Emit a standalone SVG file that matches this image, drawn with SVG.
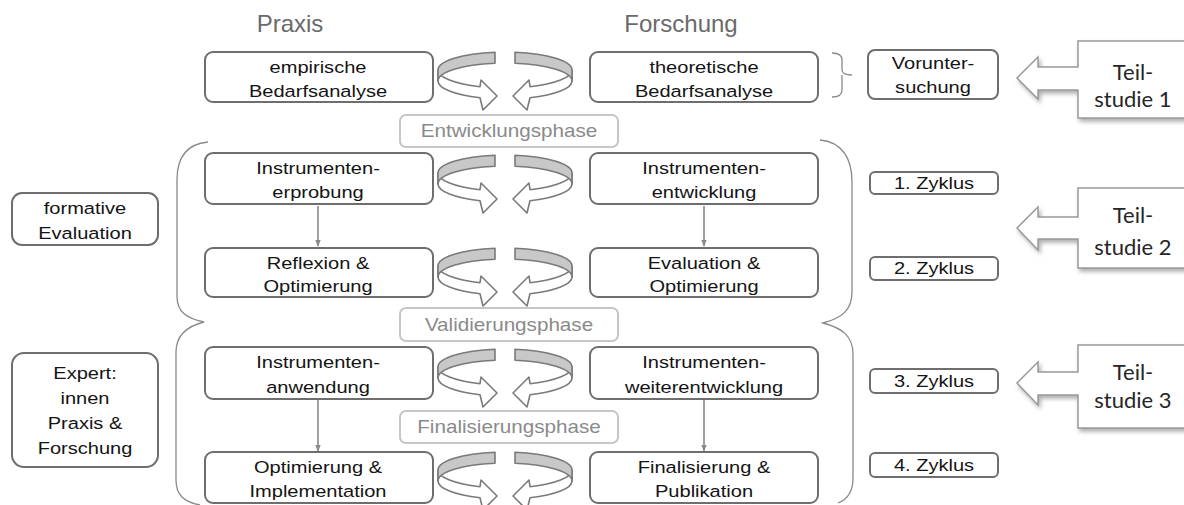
<svg xmlns="http://www.w3.org/2000/svg" width="1184" height="505" viewBox="0 0 1184 505">
<style>
.box{fill:#fff;stroke:#6e6e6e;stroke-width:2}
.phase{fill:#fff;stroke:#c6c6c6;stroke-width:2}
.t{font-family:"Liberation Sans",Arial,sans-serif;font-size:17px;fill:#141414;text-anchor:middle}
.pt{font-family:"Liberation Sans",Arial,sans-serif;font-size:17.5px;fill:#8a8a8a;text-anchor:middle}
.h{font-family:"Liberation Sans",Arial,sans-serif;font-size:24px;fill:#6a6a6a;text-anchor:middle}
.ts{font-family:Lato,"Open Sans",sans-serif;font-size:22px;fill:#262626;text-anchor:middle}
.cg{fill:#c8c8c8;stroke:#7a7a7a;stroke-width:1.6;stroke-linejoin:round}
.cw{fill:#fff;stroke:#7a7a7a;stroke-width:1.6;stroke-linejoin:round}
.br{fill:none;stroke:#8a8a8a;stroke-width:1.3}
.conn{stroke:#8a8a8a;stroke-width:1.6;fill:none}
.call{fill:#fff;stroke:#9a9a9a;stroke-width:1.5}
</style>
<defs>
<marker id="ah" viewBox="0 0 10 10" refX="9" refY="5" markerWidth="4.5" markerHeight="4.5" orient="auto"><path d="M0,1 L10,5 L0,9 Z" fill="#8a8a8a"/></marker>
<filter id="sh" x="-20%" y="-20%" width="140%" height="140%"><feDropShadow dx="2" dy="3" stdDeviation="2" flood-color="#9a9a9a" flood-opacity="0.8"/></filter>
<g id="cyc">
<path class="cw" d="M -67,0 A 67,18 0 0 0 -25,16.7 L -24,10 L -8,26 L -22,40 L -25,27.7 A 67,18 0 0 1 -67,11 Z"/>
<path class="cg" d="M -10,-17.8 A 67,18 0 0 0 -67,0 L -67,11 A 67,18 0 0 1 -10,-6.8 Z"/>
</g>
</defs>

<g id="headers">
<text class="h" x="290" y="32">Praxis</text>
<text class="h" x="681" y="32">Forschung</text>
</g>

<g id="brackets">
<path class="br" d="M 832,53 Q 842,53 842,60 L 842,70 Q 842,75 852,75 M 842,75 Q 842,75 842,80 L 842,90 Q 842,97 832,97"/>
<path class="br" d="M 208,142 C 186,144 177,158 177,180 L 177,296 C 177,312 186,318 204,322 C 188,326 176,334 176,352 L 176,480 C 176,495 184,502 200,505"/>
<path class="br" d="M 820,140 C 842,142 852,158 852,182 L 852,292 C 852,310 842,318 823,323 C 842,328 853,336 853,354 L 853,478 C 853,494 846,500 838,503"/>
</g>

<g id="connectors">
<line class="conn" x1="318" y1="206" x2="318" y2="246" marker-end="url(#ah)"/>
<line class="conn" x1="704" y1="206" x2="704" y2="246" marker-end="url(#ah)"/>
<line class="conn" x1="318" y1="400" x2="318" y2="451" marker-end="url(#ah)"/>
<line class="conn" x1="704" y1="400" x2="704" y2="451" marker-end="url(#ah)"/>
</g>

<g id="cycles">
<use href="#cyc" transform="translate(505,70)"/>
<use href="#cyc" transform="translate(505,70) scale(-1,1)"/>
<use href="#cyc" transform="translate(505,173)"/>
<use href="#cyc" transform="translate(505,173) scale(-1,1)"/>
<use href="#cyc" transform="translate(505,266)"/>
<use href="#cyc" transform="translate(505,266) scale(-1,1)"/>
<use href="#cyc" transform="translate(505,367)"/>
<use href="#cyc" transform="translate(505,367) scale(-1,1)"/>
<use href="#cyc" transform="translate(505,470)"/>
<use href="#cyc" transform="translate(505,470) scale(-1,1)"/>
</g>

<g id="n-emp"><rect class="box" x="205" y="52" width="228" height="50" rx="8"/>
<text class="t" transform="translate(318,73) scale(1.18,1)">empirische</text>
<text class="t" transform="translate(318,97) scale(1.18,1)">Bedarfsanalyse</text></g>
<g id="n-theo"><rect class="box" x="590" y="52" width="228" height="50" rx="8"/>
<text class="t" transform="translate(704,73) scale(1.18,1)">theoretische</text>
<text class="t" transform="translate(704,97) scale(1.18,1)">Bedarfsanalyse</text></g>
<g id="n-vor"><rect class="box" x="868" y="50" width="130" height="49" rx="7"/>
<text class="t" transform="translate(933,69) scale(1.18,1)">Vorunter-</text>
<text class="t" transform="translate(933,93) scale(1.18,1)">suchung</text></g>

<g id="p-entw"><rect class="phase" x="400" y="115" width="218" height="32" rx="6"/>
<text class="pt" transform="translate(509,137) scale(1.18,1)">Entwicklungsphase</text></g>
<g id="p-val"><rect class="phase" x="400" y="308" width="218" height="33" rx="6"/>
<text class="pt" transform="translate(509,331) scale(1.18,1)">Validierungsphase</text></g>
<g id="p-fin"><rect class="phase" x="400" y="411" width="218" height="32" rx="6"/>
<text class="pt" transform="translate(509,433) scale(1.18,1)">Finalisierungsphase</text></g>

<g id="n-erp"><rect class="box" x="205" y="153" width="228" height="51" rx="8"/>
<text class="t" transform="translate(318,174) scale(1.18,1)">Instrumenten-</text>
<text class="t" transform="translate(318,198) scale(1.18,1)">erprobung</text></g>
<g id="n-ent"><rect class="box" x="590" y="153" width="228" height="51" rx="8"/>
<text class="t" transform="translate(704,174) scale(1.18,1)">Instrumenten-</text>
<text class="t" transform="translate(704,198) scale(1.18,1)">entwicklung</text></g>
<g id="n-ref"><rect class="box" x="205" y="248" width="228" height="49" rx="8"/>
<text class="t" transform="translate(318,269) scale(1.18,1)">Reflexion &amp;</text>
<text class="t" transform="translate(318,292) scale(1.18,1)">Optimierung</text></g>
<g id="n-eva"><rect class="box" x="590" y="248" width="228" height="49" rx="8"/>
<text class="t" transform="translate(704,269) scale(1.18,1)">Evaluation &amp;</text>
<text class="t" transform="translate(704,292) scale(1.18,1)">Optimierung</text></g>
<g id="n-anw"><rect class="box" x="205" y="347" width="228" height="52" rx="8"/>
<text class="t" transform="translate(318,368) scale(1.18,1)">Instrumenten-</text>
<text class="t" transform="translate(318,393) scale(1.18,1)">anwendung</text></g>
<g id="n-wei"><rect class="box" x="590" y="347" width="228" height="52" rx="8"/>
<text class="t" transform="translate(704,368) scale(1.18,1)">Instrumenten-</text>
<text class="t" transform="translate(704,393) scale(1.18,1)">weiterentwicklung</text></g>
<g id="n-imp"><rect class="box" x="205" y="452" width="228" height="51" rx="8"/>
<text class="t" transform="translate(318,473) scale(1.18,1)">Optimierung &amp;</text>
<text class="t" transform="translate(318,497) scale(1.18,1)">Implementation</text></g>
<g id="n-pub"><rect class="box" x="590" y="452" width="228" height="51" rx="8"/>
<text class="t" transform="translate(704,473) scale(1.18,1)">Finalisierung &amp;</text>
<text class="t" transform="translate(704,497) scale(1.18,1)">Publikation</text></g>

<g id="n-form"><rect class="box" x="12" y="193" width="146" height="52" rx="10"/>
<text class="t" transform="translate(85,214) scale(1.18,1)">formative</text>
<text class="t" transform="translate(85,239) scale(1.18,1)">Evaluation</text></g>
<g id="n-exp"><rect class="box" x="12" y="353" width="146" height="114" rx="12"/>
<text class="t" transform="translate(85,379) scale(1.18,1)">Expert:</text>
<text class="t" transform="translate(85,404) scale(1.18,1)">innen</text>
<text class="t" transform="translate(85,429) scale(1.18,1)">Praxis &amp;</text>
<text class="t" transform="translate(85,454) scale(1.18,1)">Forschung</text></g>

<g id="z1"><rect class="box" x="870" y="172" width="128" height="22" rx="5"/>
<text class="t" transform="translate(934,189) scale(1.18,1)">1. Zyklus</text></g>
<g id="z2"><rect class="box" x="870" y="257" width="128" height="23" rx="5"/>
<text class="t" transform="translate(934,274) scale(1.18,1)">2. Zyklus</text></g>
<g id="z3"><rect class="box" x="870" y="369" width="128" height="24" rx="5"/>
<text class="t" transform="translate(934,387) scale(1.18,1)">3. Zyklus</text></g>
<g id="z4"><rect class="box" x="870" y="453" width="128" height="24" rx="5"/>
<text class="t" transform="translate(934,471) scale(1.18,1)">4. Zyklus</text></g>

<g id="teil1"><path class="call" filter="url(#sh)" d="M 1192,41 L 1078,41 L 1078,67 L 1038,67 L 1038,57 L 1017,78 L 1038,99 L 1038,90 L 1078,90 L 1078,118 L 1192,118"/>
<text class="ts" x="1133" y="80">Teil-</text>
<text class="ts" x="1133" y="107">studie 1</text></g>
<g id="teil2"><path class="call" filter="url(#sh)" d="M 1192,188 L 1078,188 L 1078,217 L 1038,217 L 1038,207 L 1017,228 L 1038,250 L 1038,239 L 1078,239 L 1078,268 L 1192,268"/>
<text class="ts" x="1133" y="223">Teil-</text>
<text class="ts" x="1133" y="255">studie 2</text></g>
<g id="teil3"><path class="call" filter="url(#sh)" d="M 1192,345 L 1078,345 L 1078,372 L 1038,372 L 1038,362 L 1017,383 L 1038,405 L 1038,395 L 1078,395 L 1078,428 L 1192,428"/>
<text class="ts" x="1133" y="380">Teil-</text>
<text class="ts" x="1133" y="408">studie 3</text></g>
</svg>
